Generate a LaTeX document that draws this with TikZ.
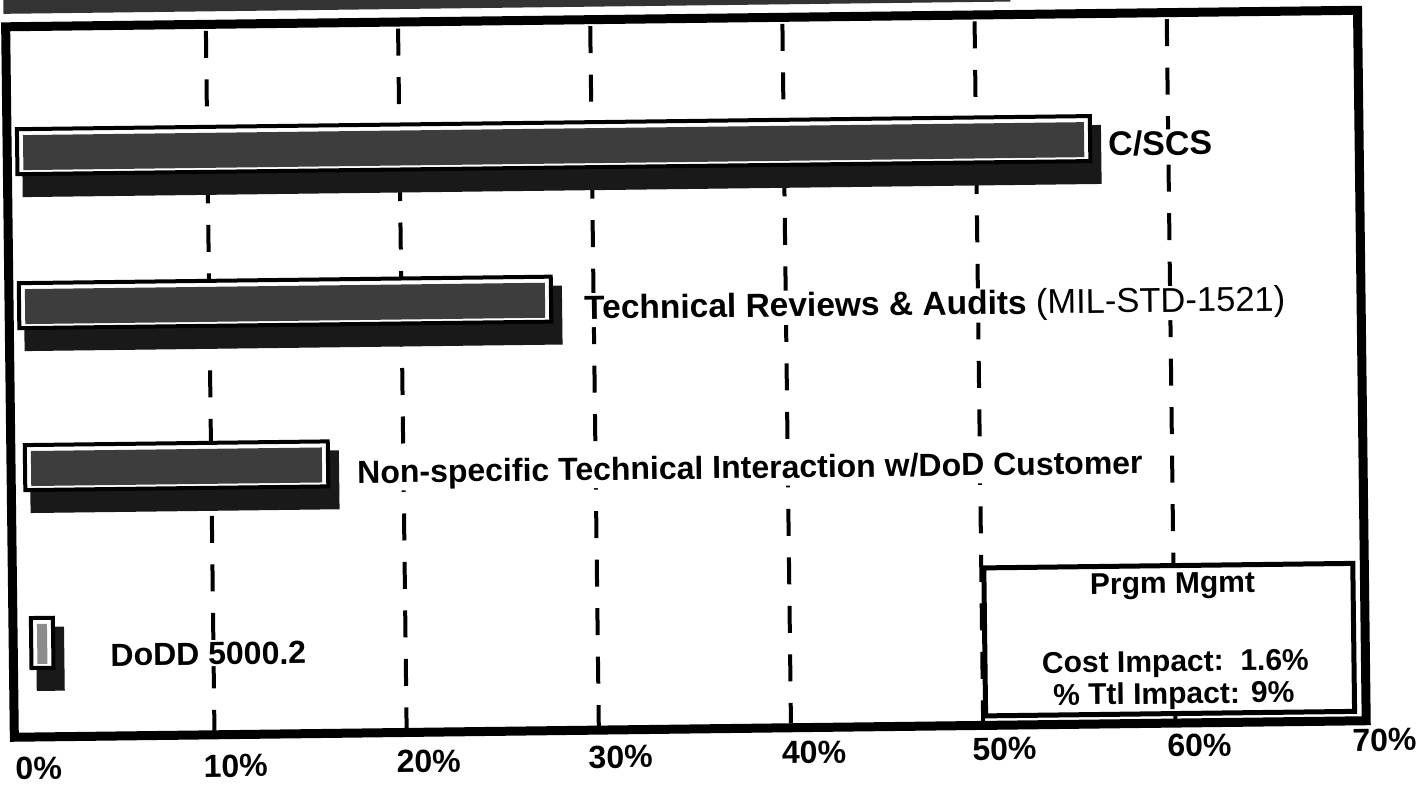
\documentclass[tikz,border=0pt]{standalone}
\usepackage{fontspec}
\setmainfont{Liberation Sans}
\begin{document}
\begin{tikzpicture}[x=1pt,y=-1pt,
  frame/.style={line width=9pt},
  gridline/.style={line width=4pt, dash pattern=on 27pt off 21.5pt},
  shadowbox/.style={fill=black!90},
  barbox/.style={draw=black, line width=4pt, fill=white},
  barfill/.style={fill=black!76},
  lbl/.style={font=\bfseries\fontsize{32}{36}\selectfont, anchor=west, inner sep=1pt, fill=white},
  ticklbl/.style={font=\bfseries\fontsize{32}{36}\selectfont, inner sep=0pt},
  legendbox/.style={draw=black, line width=5pt, fill=white},
  legendtxt/.style={font=\bfseries\fontsize{30}{34}\selectfont, inner sep=0pt},
]
\useasboundingbox (0,0) rectangle (1420,802);
\clip (0,0) rectangle (1420,802);

% one bar: #1 left, #2 right, #3 top, #4 bottom, #5 fill style
\newcommand{\drawbar}[5]{%
  \fill[shadowbox] (#1+5,#3+9) rectangle (#2+11,#4+23);
  \draw[barbox] (#1,#3) rectangle (#2,#4);
  \fill[#5] (#1+6,#3+6) rectangle (#2-6,#4-4);
}

\begin{scope}[rotate around={0.7:(688,380)}, transform shape]
  % edge of the panel above
  \fill[black!80] (8,-40) rectangle (1015,5.5);

  % dashed grid at 10% steps (0% at x=18, 192.2 per step)
  \foreach \p in {1,...,6}{
    \pgfmathsetmacro{\gx}{18+192.2*\p}
    \coordinate (g\p t) at (\gx,25);
    \coordinate (g\p b) at (\gx,725);
    \draw[gridline] (g\p t) -- (g\p b);
  }

  % bars
  \drawbar{20}{1093}{121}{166}{barfill}
  \drawbar{20}{552}{275}{320}{barfill}
  \drawbar{24}{327}{437}{482}{barfill}
  \drawbar{28}{50}{610}{660}{fill=black!45}

  % bar labels
  \node[lbl, font=\bfseries\fontsize{34}{38}\selectfont] (cscs) at (1110,149) {C/SCS};
  \node[lbl, font=\bfseries\fontsize{33.5}{38}\selectfont] (tech) at (584,309)
    {Technical Reviews \& Audits {\mdseries\fontsize{34.5}{38}\selectfont (MIL-STD-1521)}};
  \node[lbl] (nonspec) at (355,471) {Non-specific Technical Interaction w/DoD Customer};
  \node[lbl] (dodd) at (106,648) {DoDD 5000.2};

  % summary box
  \node[legendbox, minimum width=369pt, minimum height=148pt, anchor=north west] (legend) at (979,569) {};
  \node[legendtxt] (lgtitle) at (1170,592) {Prgm Mgmt};
  \node[legendtxt] (lgcost) at (1172,670) {Cost Impact:\ \ 1.6\%};
  \node[legendtxt] (lgtotal) at (1170,702) {\% Ttl Impact: 9\%};

  % chart frame
  \draw[frame] (10,18.5) rectangle (1362,729);

  % axis labels
  \node[ticklbl] (t0) at (34,760.4) {0\%};
  \node[ticklbl] (t1) at (231,760.3) {10\%};
  \node[ticklbl] (t2) at (424,758.2) {20\%};
  \node[ticklbl] (t3) at (616,756) {30\%};
  \node[ticklbl] (t4) at (809.5,753.9) {40\%};
  \node[ticklbl] (t5) at (1000,752.7) {50\%};
  \node[ticklbl] (t6) at (1195,751.6) {60\%};
  \node[ticklbl] (t7) at (1380,748.3) {70\%};
\end{scope}
\end{tikzpicture}
\end{document}
